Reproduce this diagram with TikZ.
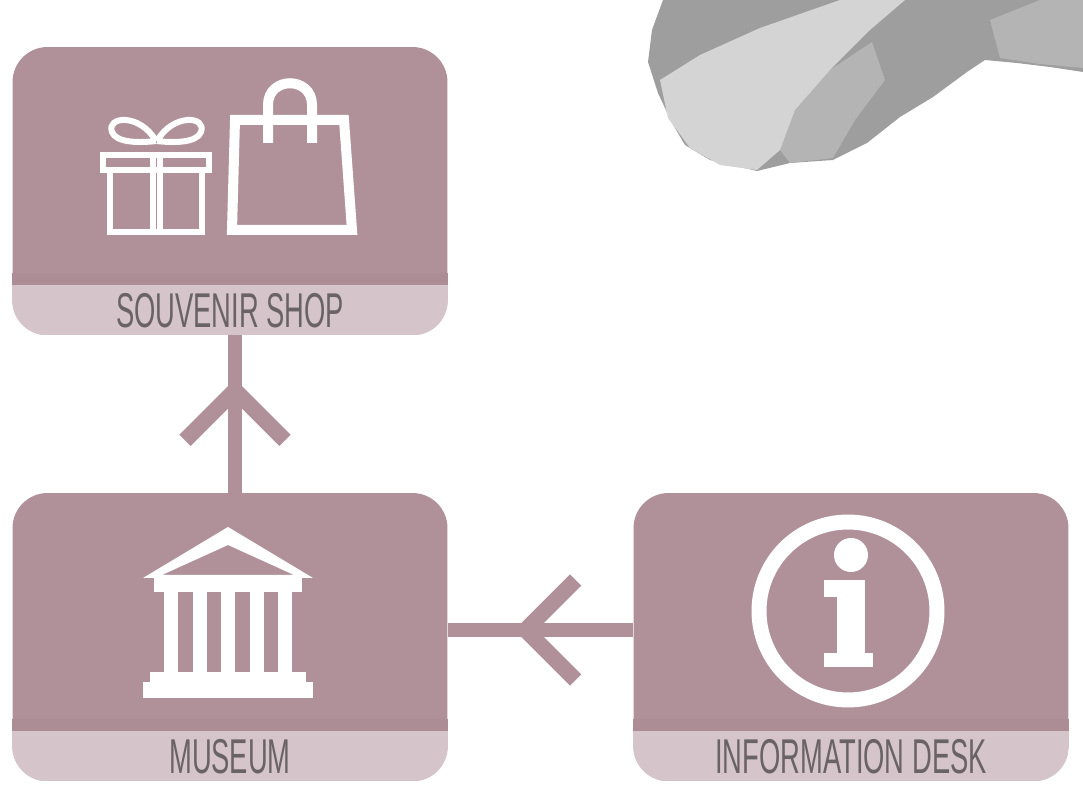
\documentclass[tikz,border=0pt]{standalone}
\usepackage{fontspec}
\usepackage{xcolor}
\usetikzlibrary{positioning, calc, decorations.markings}

\newfontfamily\signfont[FakeStretch=0.56]{Liberation Sans}

\definecolor{mauve}{RGB}{176,145,154}
\definecolor{mauveshade}{RGB}{172,141,150}
\definecolor{mauvelight}{RGB}{213,196,201}
\definecolor{signtext}{RGB}{105,99,102}
\definecolor{rockdark}{RGB}{158,158,158}
\definecolor{rockmid}{RGB}{180,180,180}
\definecolor{rocklight}{RGB}{212,212,212}

\begin{document}
\begin{tikzpicture}[
    x=0.02cm, y=-0.02cm,
    room/.style={rectangle, rounded corners=0.7cm, fill=mauve, minimum width=8.7cm, minimum height=5.76cm, inner sep=0pt},
    roomname/.style={font=\signfont\fontsize{27.8}{30}\selectfont, text=signtext, inner sep=0pt},
    icon/.style={draw=white, line width=0.12cm},
    flow/.style={draw=mauve, line width=0.27cm, postaction={decorate}},
    chevron at/.style={decoration={markings, mark=at position #1 with {\draw[mauve, line width=0.32cm] (-50,-50) -- (0,0) -- (-50,50);}}}
]

\useasboundingbox (0,0) rectangle (1083,810);
\fill[white] (0,0) rectangle (1083,810);

% Paint stroke
\fill[rockdark] (663,0) -- (652,30) -- (648,62) -- (658,93) -- (672,123) -- (685,145) -- (710,160) -- (757,171) -- (790,163) -- (833,160) -- (867,143) -- (900,117) -- (933,97) -- (967,72) -- (985,60) -- (1017,63) -- (1050,67) -- (1083,72) -- (1083,0) -- cycle;
\fill[rockmid] (795,110) -- (830,70) -- (872,42) -- (885,80) -- (855,120) -- (833,158) -- (790,163) -- (780,150) -- cycle;
\fill[rockmid] (990,20) -- (1040,0) -- (1083,0) -- (1083,68) -- (1040,64) -- (1000,58) -- cycle;
\fill[rocklight] (660,80) -- (700,55) -- (760,28) -- (840,0) -- (905,0) -- (870,30) -- (830,70) -- (795,110) -- (780,150) -- (757,170) -- (720,165) -- (690,148) -- (668,118) -- cycle;

% Rooms
\node[room] (shop) at (230,191) {};
\node[room] (museum) at (230,637) {};
\node[room] (info) at (851,637) {};

\foreach \r in {shop, museum, info} {
    \begin{scope}
        \clip[rounded corners=0.7cm] (\r.south west) rectangle (\r.north east);
        \fill[mauveshade] ($(\r.south west)+(0,-50)$) rectangle ($(\r.south east)+(0,-62)$);
        \fill[mauvelight] (\r.south west) rectangle ($(\r.south east)+(0,-50)$);
    \end{scope}
}

\node[roomname] (shopname) at ($(shop.south)+(0,-25)$) {SOUVENIR SHOP};
\node[roomname] (museumname) at ($(museum.south)+(0,-25)$) {MUSEUM};
\node[roomname] (infoname) at ($(info.south)+(0,-25)$) {INFORMATION DESK};

% Gift
\draw[icon] (103,155) rectangle (209,170);
\draw[icon] (110,170) rectangle (202,232);
\draw[icon] (153,155) -- (153,232) (160,155) -- (160,232);
\draw[icon] (156,141) .. controls (140,113) and (106,116) .. (112,132) .. controls (116,143) and (140,143) .. (156,141);
\draw[icon] (157,141) .. controls (173,113) and (207,116) .. (201,132) .. controls (197,143) and (173,143) .. (157,141);

% Bag
\draw[icon, line width=0.2cm] (235,120) -- (344,120) -- (352,230) -- (232,230) -- cycle;
\draw[icon, line width=0.2cm] (268,143) -- (268,105) .. controls (268,76) and (312,76) .. (312,105) -- (312,143);

% Temple
\fill[white, even odd rule] (143,578) -- (228,527) -- (313,578) -- cycle (162,575) -- (228,545) -- (294,575) -- cycle;
\fill[white] (154,576) rectangle (302,592);
\foreach \cx in {171,199.5,228,256.5,285}
    \fill[white] (\cx-7,592) rectangle (\cx+7,672);
\fill[white] (150,672) rectangle (306,682);
\fill[white] (143,682) rectangle (313,698);

% Info sign
\draw[white, line width=0.3cm] (848,611) circle [radius=1.78cm];
\fill[white] (851,555) circle [radius=0.34cm];
\fill[white] (837,580) rectangle (865,667);
\fill[white] (824,580) rectangle (837,597);
\fill[white] (824,653) rectangle (873,667);

% Arrows
\draw[flow, chevron at=0.65] ([xshift=0.1cm]museum.north) -- ([xshift=0.1cm]shop.south);
\draw[flow, chevron at=0.58] ([yshift=0.14cm]info.west) -- ([yshift=0.14cm]museum.east);

\end{tikzpicture}
\end{document}
